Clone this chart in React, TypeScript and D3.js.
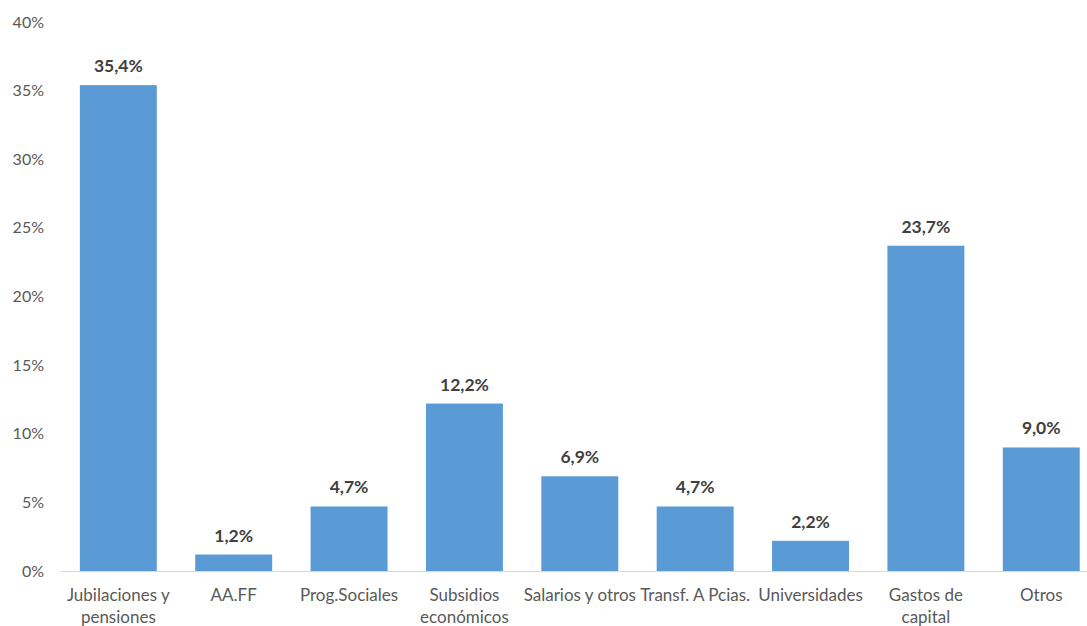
import React from "react";
import * as d3 from "d3";

const categories: string[][] = [
  ["Jubilaciones y", "pensiones"],
  ["AA.FF"],
  ["Prog.Sociales"],
  ["Subsidios", "económicos"],
  ["Salarios y otros"],
  ["Transf. A Pcias."],
  ["Universidades"],
  ["Gastos de", "capital"],
  ["Otros"],
];
const values: number[] = [35.4, 1.2, 4.7, 12.2, 6.9, 4.7, 2.2, 23.7, 9.0];
const yTicks: number[] = [0, 5, 10, 15, 20, 25, 30, 35, 40];

const W = 1087;
const H = 626;
const FONT = "Lato, 'Open Sans', sans-serif";

export default function App() {
  const x = d3
    .scaleBand<number>()
    .domain(values.map((_, i) => i))
    .range([60.6, 1099])
    .paddingInner(0.333)
    .paddingOuter(0.167);
  const y = d3.scaleLinear().domain([0, 40]).range([571, 22]);
  const fmt = (v: number) => v.toFixed(1).replace(".", ",") + "%";

  return (
    <svg
      width={W}
      height={H}
      style={{ position: "absolute", left: 0, top: 0, background: "#fff" }}
      fontFamily={FONT}
    >
      {yTicks.map((t) => (
        <text
          key={t}
          x={44}
          y={y(t)}
          dy="0.35em"
          textAnchor="end"
          fontSize={16}
          fill="#595959"
        >
          {t + "%"}
        </text>
      ))}
      {values.map((v, i) => (
        <rect
          key={i}
          x={x(i)}
          y={y(v)}
          width={x.bandwidth()}
          height={y(0) - y(v)}
          fill="#5B9BD5"
        />
      ))}
      <line x1={60.6} x2={1099} y1={y(0) + 0.5} y2={y(0) + 0.5} stroke="#D9D9D9" strokeWidth={1} />
      {values.map((v, i) => (
        <text
          key={i}
          x={(x(i) as number) + x.bandwidth() / 2}
          y={y(v) - 13}
          textAnchor="middle"
          fontSize={17.5}
          fontWeight="bold"
          fill="#404040"
        >
          {fmt(v)}
        </text>
      ))}
      {categories.map((lines, i) => (
        <text
          key={i}
          x={(x(i) as number) + x.bandwidth() / 2}
          y={601}
          textAnchor="middle"
          fontSize={17}
          fill="#595959"
        >
          {lines.map((l, j) => (
            <tspan key={j} x={(x(i) as number) + x.bandwidth() / 2} dy={j === 0 ? 0 : 22}>
              {l}
            </tspan>
          ))}
        </text>
      ))}
    </svg>
  );
}
